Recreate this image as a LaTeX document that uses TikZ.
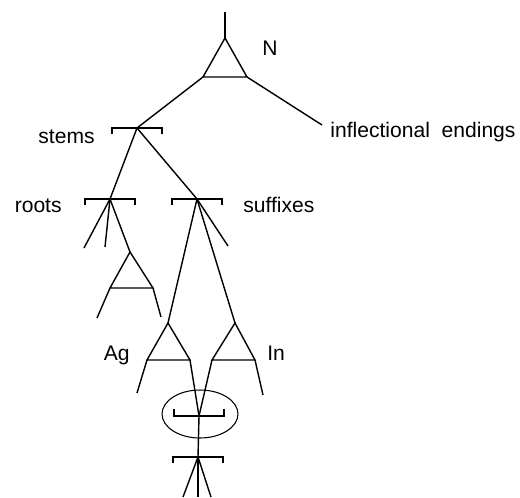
\documentclass[tikz,border=0pt]{standalone}
\usepackage{fontspec}
\setmainfont{Liberation Sans}
\usepackage{tikz}
\usetikzlibrary{shapes.geometric}

\newcommand{\capbar}[1]{\draw[branch] ([shift={(-25,6)}]#1) -- ++(0,-6) -- ++(50,0) -- ++(0,6);}
\newcommand{\cupbar}[1]{\draw[branch] ([shift={(-25,-7)}]#1) -- ++(0,7) -- ++(50,0) -- ++(0,-7);}

\begin{document}
\begin{tikzpicture}[x=0.02cm,y=-0.02cm,
    branch/.style={line width=0.8pt},
    lbl/.style={font=\fontsize{12}{14}\selectfont,inner sep=0pt}]
  \useasboundingbox (0,0) rectangle (520,497);
  % N at the top
  \coordinate (top) at (225,12);
  \coordinate (Na) at (225,38);
  \coordinate (Nl) at (203,77);
  \coordinate (Nr) at (247,77);
  \coordinate (infl) at (322,125);
  \draw[branch] (top) -- (Na);
  \draw[branch] (Na) -- (Nl) -- (Nr) -- cycle;
  \node[lbl,anchor=base west] (Nlab) at (262,55) {N};
  \node[lbl,anchor=base west] (infllab) at (330,137) {inflectional\ \ endings};
  \draw[branch] (Nr) -- (infl);
  % stems
  \coordinate (stem) at (137,128);
  \draw[branch] (Nl) -- (stem);
  \capbar{stem}
  \node[lbl,anchor=base east] (stemlab) at (95,143) {stems};
  % roots and suffixes
  \coordinate (root) at (110,199);
  \coordinate (suff) at (197,199);
  \draw[branch] (stem) -- (root);
  \draw[branch] (stem) -- (suff);
  \capbar{root}
  \capbar{suff}
  \node[lbl,anchor=base east] (rootlab) at (62,212) {roots};
  \node[lbl,anchor=base west] (sufflab) at (243,212) {suffixes};
  % under roots
  \coordinate (r1) at (84,248);
  \coordinate (r2) at (105,247);
  \coordinate (Ra) at (130,252);
  \coordinate (Rl) at (110,288);
  \coordinate (Rr) at (153,288);
  \coordinate (Rlx) at (97,318);
  \coordinate (Rrx) at (161,317);
  \draw[branch] (root) -- (r1);
  \draw[branch] (root) -- (r2);
  \draw[branch] (root) -- (Ra);
  \draw[branch] (Ra) -- (Rl) -- (Rr) -- cycle;
  \draw[branch] (Rl) -- (Rlx);
  \draw[branch] (Rr) -- (Rrx);
  % under suffixes
  \coordinate (s1) at (228,246);
  \coordinate (Aa) at (168,323);
  \coordinate (Al) at (147,360);
  \coordinate (Ar) at (190,360);
  \coordinate (Alx) at (137,393);
  \coordinate (Ia) at (235,323);
  \coordinate (Il) at (212,360);
  \coordinate (Ir) at (255,360);
  \coordinate (Irx) at (263,395);
  \draw[branch] (suff) -- (s1);
  \draw[branch] (suff) -- (Aa);
  \draw[branch] (suff) -- (Ia);
  \draw[branch] (Aa) -- (Al) -- (Ar) -- cycle;
  \draw[branch] (Ia) -- (Il) -- (Ir) -- cycle;
  \draw[branch] (Al) -- (Alx);
  \draw[branch] (Ir) -- (Irx);
  \node[lbl,anchor=base east] (Aglab) at (130,360) {Ag};
  \node[lbl,anchor=base west] (Inlab) at (267,360) {In};
  % the ringed join and below
  \coordinate (join) at (199,416);
  \coordinate (low) at (198,457);
  \coordinate (b1) at (183,497);
  \coordinate (b2) at (198,497);
  \coordinate (b3) at (211,497);
  \node[draw,ellipse,line width=0.6pt,minimum width=1.52cm,minimum height=0.96cm] (ring) at (200,414) {};
  \draw[branch] (Ar) -- (join);
  \draw[branch] (Il) -- (join);
  \cupbar{join}
  \draw[branch] (join) -- (low);
  \capbar{low}
  \draw[branch] (low) -- (b1);
  \draw[branch] (low) -- (b2);
  \draw[branch] (low) -- (b3);
\end{tikzpicture}
\end{document}
